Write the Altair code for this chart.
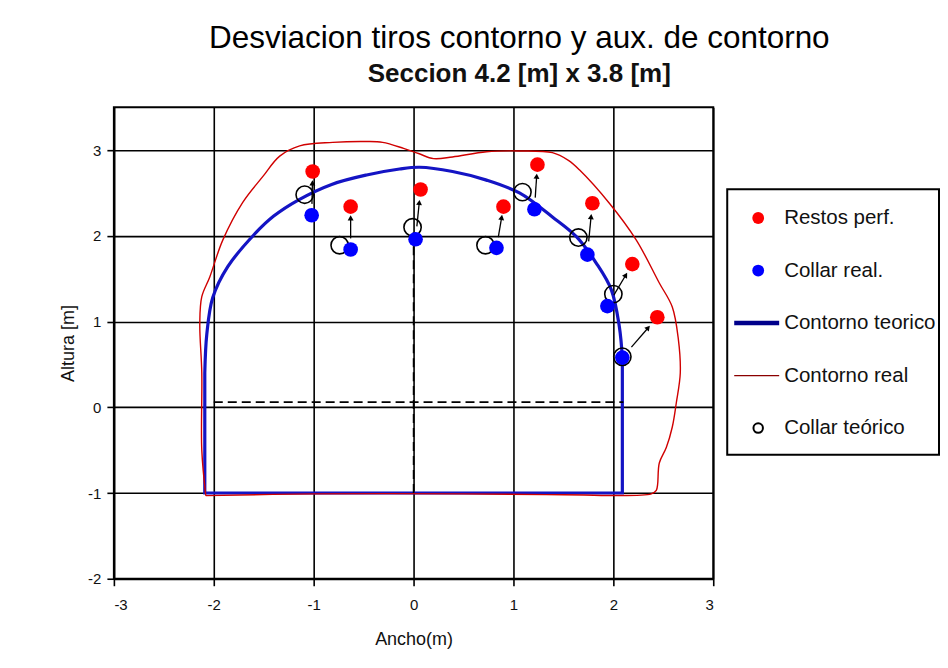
import altair as alt
import pandas as pd
import numpy as np

F = "Liberation Sans"

# ---- data ----
resto_x = [-1.01, -0.63, 0.07, 0.90, 1.24, 1.79, 2.19, 2.44]
resto_y = [2.75, 2.34, 2.54, 2.34, 2.83, 2.38, 1.67, 1.05]

real_x = [-1.02, -0.63, 0.02, 0.83, 1.21, 1.74, 1.94, 2.09]
real_y = [2.24, 1.84, 1.96, 1.86, 2.31, 1.78, 1.18, 0.58]

teo_x = [-1.09, -0.74, -0.01, 0.72, 1.09, 1.65, 2.00, 2.09]
teo_y = [2.48, 1.89, 2.10, 1.89, 2.51, 1.98, 1.32, 0.59]

# theoretical contour: arch from left wall top over the crown to right wall top,
# then right wall, floor and left wall
cteo_x = [-2.09, -2.07, -2.01, -1.86, -1.60, -1.40, -1.15, -0.82, -0.47, -0.14, 0.06,
          0.39, 0.73, 1.06, 1.39, 1.63, 1.83, 1.98, 2.06, 2.09, 2.09, -2.09, -2.09]
cteo_y = [0.40, 0.85, 1.28, 1.64, 2.01, 2.23, 2.42, 2.60, 2.71, 2.78, 2.80,
          2.75, 2.65, 2.50, 2.22, 1.99, 1.68, 1.37, 0.94, 0.58, -1.00, -1.00, 0.40]
N_ARCH = 20  # number of points on the arch

creal_x = [-2.08, -2.12, -2.12, -2.14, -2.12, -2.04, -1.91, -1.71, -1.51, -1.34, -1.14, -0.81,
           -0.47, -0.31, -0.10, 0.05, 0.20, 0.39, 0.73, 1.06, 1.39, 1.55, 1.66, 1.96, 2.23,
           2.46, 2.59, 2.65, 2.67, 2.63, 2.59, 2.53, 2.46, 2.43, 2.38, 1.50, 0.50, -1.00, -2.08]
creal_y = [-1.03, -0.50, 0.40, 0.98, 1.29, 1.52, 1.95, 2.39, 2.69, 2.93, 3.05, 3.09,
           3.10, 3.09, 3.02, 2.96, 2.90, 2.92, 2.98, 2.99, 2.97, 2.88, 2.77, 2.38, 1.95,
           1.45, 1.17, 0.80, 0.40, 0.05, -0.23, -0.47, -0.65, -0.97, -1.01, -1.02, -1.01, -1.01, -1.03]

# dashed reference lines
vdash_x = [0.0]
vdash_y = [-1.0]
vdash_y2 = [2.05]
hdash_y = [0.06]
hdash_x = [-2.0]
hdash_x2 = [2.10]

x_ticks = [-3, -2, -1, 0, 1, 2, 3]
y_ticks = [-2, -1, 0, 1, 2, 3]

leg_labels = ["Restos perf.", "Collar real.", "Contorno teorico", "Contorno real", "Collar teórico"]

title_text = "Desviacion tiros contorno y aux. de contorno"
subtitle_text = "Seccion 4.2 [m] x 3.8 [m]"

# ---- tables ----
resto_df = pd.DataFrame({"x": resto_x, "y": resto_y})
real_df = pd.DataFrame({"x": real_x, "y": real_y})
teo_df = pd.DataFrame({"x": teo_x, "y": teo_y})
cteo_df = pd.DataFrame({"x": cteo_x, "y": cteo_y, "i": range(len(cteo_x))})
creal_df = pd.DataFrame({"x": creal_x, "y": creal_y, "i": range(len(creal_x))})

rx, ry = np.array(real_x), np.array(real_y)
dx, dy = np.array(resto_x) - rx, np.array(resto_y) - ry
arrow_df = pd.DataFrame({
    "x": rx + 0.26 * dx, "y": ry + 0.26 * dy,
    "x2": rx + 0.74 * dx, "y2": ry + 0.74 * dy,
})
head_df = pd.DataFrame({
    "x": rx + 0.74 * dx, "y": ry + 0.74 * dy,
    "ang": (np.degrees(np.arctan2(dx * 100.0, dy * 85.8)) + 360.0) % 360.0,
})
vdash_df = pd.DataFrame({"x": vdash_x, "y": vdash_y, "y2": vdash_y2})
hdash_df = pd.DataFrame({"x": hdash_x, "x2": hdash_x2, "y": hdash_y})

xs = alt.Scale(domain=[-3, 3], nice=False, zero=False)
ys = alt.Scale(domain=[-2, 3.5], nice=False, zero=False)
xax = alt.Axis(values=x_ticks, title="Ancho(m)", grid=True, labelExpr="datum.value")
yax = alt.Axis(values=y_ticks, title="Altura [m]", grid=True, labelExpr="datum.value")


def X(f="x"):
    return alt.X(f + ":Q", scale=xs, axis=xax)


def Y(f="y"):
    return alt.Y(f + ":Q", scale=ys, axis=yax)


BLUE = "#1414c4"
blue_arch = alt.Chart(cteo_df).transform_filter(f"datum.i <= {N_ARCH - 1}").mark_line(
    color=BLUE, strokeWidth=3.2, interpolate="catmull-rom").encode(x=X(), y=Y(), order="i:Q")
blue_base = alt.Chart(cteo_df).transform_filter(f"datum.i >= {N_ARCH - 1}").mark_line(
    color=BLUE, strokeWidth=3.2).encode(x=X(), y=Y(), order="i:Q")
red_line = alt.Chart(creal_df).mark_line(color="#d00000", strokeWidth=1.4,
                                         interpolate="catmull-rom").encode(
    x=X(), y=Y(), order="i:Q")
vdash = alt.Chart(vdash_df).mark_rule(color="black", strokeWidth=1.6, strokeDash=[9, 5]).encode(
    x=X(), y=Y(), y2="y2:Q")
hdash = alt.Chart(hdash_df).mark_rule(color="black", strokeWidth=1.6, strokeDash=[9, 5]).encode(
    x=X(), x2="x2:Q", y=Y())
teo_pts = alt.Chart(teo_df).mark_point(shape="circle", filled=False, color="black",
                                        size=300, strokeWidth=1.6, opacity=1).encode(x=X(), y=Y())
arrows = alt.Chart(arrow_df).mark_rule(color="black", strokeWidth=1.3).encode(
    x=X(), y=Y(), x2="x2:Q", y2="y2:Q")
heads = alt.Chart(head_df).mark_point(shape="triangle-up", filled=True, color="black",
                                      size=35, opacity=1).encode(
    x=X(), y=Y(), angle=alt.Angle("ang:Q", scale=None))
real_pts = alt.Chart(real_df).mark_circle(color="#0000ff", size=215, opacity=1).encode(x=X(), y=Y())
resto_pts = alt.Chart(resto_df).mark_circle(color="#ff0000", size=215, opacity=1).encode(x=X(), y=Y())

main = alt.layer(blue_arch, blue_base, red_line, vdash, hdash, teo_pts, arrows, heads,
                 real_pts, resto_pts).properties(width=600, height=472)

# ---- legend panel ----
leg_df = pd.DataFrame({"label": leg_labels, "idx": list(range(len(leg_labels)))})
ly = alt.Y("idx:Q", scale=alt.Scale(domain=[-0.55, 4.51], reverse=True, nice=False, zero=False), axis=None)
lcol = alt.Color("label:N", scale=alt.Scale(domain=leg_labels,
                                            range=["#ff0000", "#0000ff", "#00008b", "#8b0000", "#000000"]),
                 legend=None)
base = alt.Chart(leg_df)
leg_fill = base.transform_filter("datum.idx < 2").mark_circle(size=140, opacity=1).encode(
    x=alt.value(31), y=ly, color=lcol)
leg_thick = base.transform_filter("datum.idx == 2").mark_rule(strokeWidth=4.5).encode(
    x=alt.value(7), x2=alt.value(52), y=ly, color=lcol)
leg_thin = base.transform_filter("datum.idx == 3").mark_rule(strokeWidth=1.3).encode(
    x=alt.value(7), x2=alt.value(52), y=ly, color=lcol)
leg_open = base.transform_filter("datum.idx == 4").mark_point(shape="circle", filled=False, size=90,
                                                              strokeWidth=2, opacity=1).encode(
    x=alt.value(31), y=ly, color=lcol)
leg_text = base.mark_text(align="left", baseline="middle", font=F, fontSize=20.5, color="#111").encode(
    x=alt.value(57), y=ly, text="label:N")
legend_panel = alt.layer(leg_fill, leg_thick, leg_thin, leg_open, leg_text).properties(
    width=212, height=266)

spacer = alt.Chart(pd.DataFrame({"v": [0]})).mark_point(opacity=0).encode(
    x=alt.value(0), y=alt.value(0)).properties(width=212, height=81,
                                               view=alt.ViewBackground(stroke=None))

right = alt.vconcat(spacer, legend_panel, spacing=0)

chart = alt.hconcat(main, right, spacing=9).properties(
    title=alt.Title(text=title_text, subtitle=subtitle_text, anchor="middle", dx=20),
    padding={"left": 50, "top": 14, "right": 0, "bottom": 2},
    background="white",
).configure_axis(
    gridColor="black", gridWidth=1.6, gridOpacity=1,
    domainColor="black", domainWidth=2,
    tickColor="black", tickWidth=1.6, tickSize=7,
    labelFont=F, labelFontSize=15, labelColor="#111",
    titleFont=F, titleFontSize=18, titleFontWeight="normal", titleColor="#111",
).configure_axisX(labelPadding=12, titlePadding=18).configure_axisY(labelPadding=6, titlePadding=10).configure_view(
    stroke="black", strokeWidth=2
).configure_title(
    font=F, fontSize=31.5, fontWeight="normal", color="black",
    subtitleFont=F, subtitleFontSize=26, subtitleFontWeight="bold", subtitleColor="#111",
    offset=18, subtitlePadding=6,
)

chart.save("out.html", embed_options={"renderer": "svg", "actions": False})
